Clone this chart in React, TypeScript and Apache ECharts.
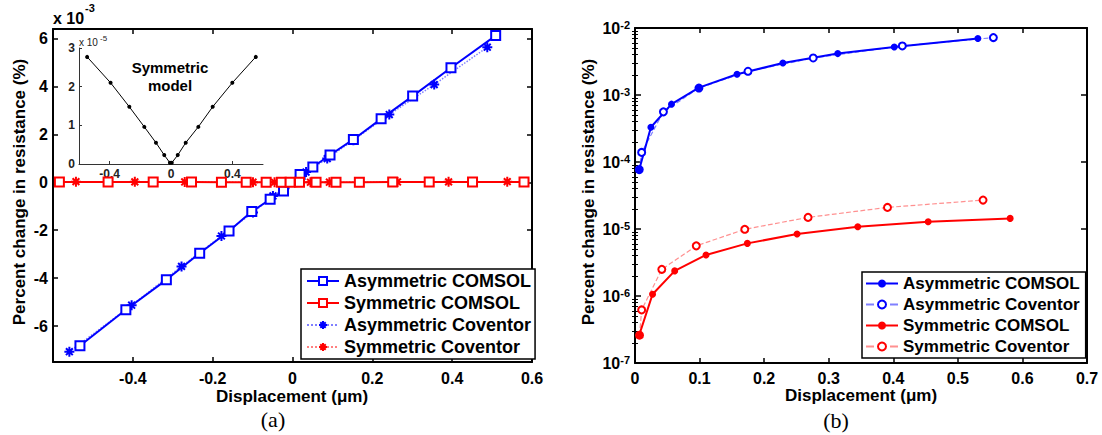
import React, { useEffect, useRef } from 'react';
import * as echarts from 'echarts';

// ---------- Data: panel (a), values in units of 1e-3 % ----------
const aAsymComsolX = [-0.5325, -0.4175, -0.316, -0.2325, -0.159, -0.102, -0.056, -0.0225, 0.019, 0.051, 0.094, 0.1525, 0.222, 0.301, 0.397, 0.509];
const aAsymComsolY = [-6.82, -5.32, -4.07, -2.96, -2.03, -1.22, -0.71, -0.36, 0.33, 0.64, 1.14, 1.79, 2.65, 3.6, 4.78, 6.125];
const aAsymCovX = [-0.559, -0.403, -0.278, -0.178, -0.099, -0.049, -0.02, 0.034, 0.087, 0.1525, 0.2425, 0.355, 0.488];
const aAsymCovY = [-7.07, -5.13, -3.51, -2.24, -1.26, -0.57, -0.25, 0.43, 0.99, 1.76, 2.83, 4.08, 5.64];
const aSymComsolX = [-0.584, -0.462, -0.349, -0.253, -0.178, -0.116, -0.066, -0.028, -0.006, 0.0175, 0.059, 0.109, 0.1675, 0.251, 0.3425, 0.451, 0.58];
const aSymComsolY = [0.0144, 0.0128, 0.0108, 0.0084, 0.0061, 0.0041, 0.0024, 0.0011, 0.0003, 0.0008, 0.0024, 0.0041, 0.0061, 0.0084, 0.0108, 0.0128, 0.0144];
const aSymCovX = [-0.5425, -0.395, -0.27, -0.178, -0.099, -0.045, -0.01, 0.01, 0.045, 0.0925, 0.1675, 0.263, 0.391, 0.538];
const aSymCovY = [0.027, 0.021, 0.0149, 0.0099, 0.0056, 0.0025, 0.0006, 0.0006, 0.0025, 0.0056, 0.0099, 0.0149, 0.021, 0.027];
const aXTicks = [-0.6, -0.4, -0.2, 0, 0.2, 0.4, 0.6];
const aYTicks = [-6, -4, -2, 0, 2, 4, 6];

// inset (units of 1e-5 %)
const insetX = [-0.547, -0.394, -0.272, -0.174, -0.098, -0.044, -0.007, 0.005, 0.044, 0.096, 0.178, 0.272, 0.4, 0.553];
const insetY = [2.77, 2.1, 1.48, 0.96, 0.55, 0.23, 0.03, 0.03, 0.23, 0.55, 0.96, 1.48, 2.1, 2.77];
const insetXTicks = [-0.4, 0, 0.4];
const insetYTicks = [0, 1, 2, 3];

// ---------- Data: panel (b), values in % ----------
const bAsymComsolX = [0.0066, 0.0246, 0.0565, 0.099, 0.158, 0.229, 0.314, 0.4015, 0.531];
const bAsymComsolY = [7.7e-5, 3.3e-4, 7.3e-4, 1.29e-3, 2.04e-3, 3.0e-3, 4.15e-3, 5.21e-3, 6.95e-3];
const bAsymCovX = [0.0066, 0.0103, 0.044, 0.099, 0.175, 0.276, 0.414, 0.555];
const bAsymCovY = [7.7e-5, 1.39e-4, 5.6e-4, 1.27e-3, 2.26e-3, 3.57e-3, 5.4e-3, 7.19e-3];
const bSymComsolX = [0.0066, 0.0272, 0.0615, 0.11, 0.174, 0.251, 0.345, 0.454, 0.581];
const bSymComsolY = [2.63e-7, 1.06e-6, 2.37e-6, 4.1e-6, 6.1e-6, 8.4e-6, 1.08e-5, 1.28e-5, 1.44e-5];
const bSymCovX = [0.007, 0.0103, 0.0415, 0.0949, 0.17, 0.268, 0.391, 0.539];
const bSymCovY = [2.6e-7, 6.2e-7, 2.5e-6, 5.6e-6, 9.9e-6, 1.49e-5, 2.1e-5, 2.7e-5];
const bYMajor = [1e-7, 1e-6, 1e-5, 1e-4, 1e-3, 1e-2];
const bYMinor = [2, 3, 4, 5, 6, 7, 8, 9].flatMap((k) => [-7, -6, -5, -4, -3].map((e) => k * Math.pow(10, e)));

const legendA = ['Asymmetric COMSOL', 'Symmetric COMSOL', 'Asymmetric Coventor', 'Symmetric Coventor'];
const legendB = ['Asymmetric COMSOL', 'Asymmetric Coventor', 'Symmetric COMSOL', 'Symmetric Coventor'];

const zip = (xs: number[], ys: number[]) => xs.map((x, i) => [x, ys[i]]);

const FONT = 'Arial, "Liberation Sans", Helvetica, sans-serif';
const BLUE = '#0000ff';
const RED = '#ff0000';
const STAR = 'path://M5,0L5,10M0,5L10,5M1.6,1.6L8.4,8.4M1.6,8.4L8.4,1.6';

const lbl = { fontFamily: FONT, fontSize: 16, fontWeight: 'bold' as const, color: '#000' };
const fmt1 = (v: number) => String(Math.round(v * 10) / 10);

function buildOption(): any {
  const axLine = { onZero: false, lineStyle: { color: '#000', width: 2 } };
  const tick = { inside: true, length: 5, lineStyle: { color: '#000', width: 1.5 } };
  const bPrefix = 'R: ';
  return {
    animation: false,
    backgroundColor: '#fff',
    grid: [
      { left: 53, top: 29, width: 479, height: 333 },
      { left: 79, top: 48, width: 184, height: 116 },
      { left: 635, top: 28, width: 452, height: 335 },
    ],
    xAxis: [
      {
        gridIndex: 0, type: 'value', min: -0.6, max: 0.6, position: 'bottom',
        axisLine: axLine, splitLine: { show: false },
        axisTick: { ...tick, customValues: aXTicks },
        axisLabel: { ...lbl, margin: 8, customValues: aXTicks.slice(1), formatter: fmt1 },
      },
      {
        gridIndex: 0, type: 'value', min: -0.6, max: 0.6, position: 'top',
        axisLine: axLine, splitLine: { show: false },
        axisTick: { ...tick, customValues: aXTicks }, axisLabel: { show: false },
      },
      {
        gridIndex: 1, type: 'value', min: -0.6, max: 0.6, position: 'bottom',
        axisLine: { onZero: false, lineStyle: { color: '#333', width: 1 } }, splitLine: { show: false },
        axisTick: { inside: true, length: 3, lineStyle: { color: '#333' }, customValues: insetXTicks },
        axisLabel: { fontFamily: FONT, fontSize: 12, fontWeight: 'bold', color: '#222', margin: 4, customValues: insetXTicks, formatter: fmt1 },
      },
      {
        gridIndex: 2, type: 'value', min: 0, max: 0.7, interval: 0.1, position: 'bottom',
        axisLine: axLine, splitLine: { show: false }, axisTick: tick,
        axisLabel: { ...lbl, margin: 7, formatter: fmt1 },
      },
      {
        gridIndex: 2, type: 'value', min: 0, max: 0.7, interval: 0.1, position: 'top',
        axisLine: axLine, splitLine: { show: false }, axisTick: tick, axisLabel: { show: false },
      },
    ],
    yAxis: [
      {
        gridIndex: 0, type: 'value', min: -7.5, max: 6.4, position: 'left',
        axisLine: axLine, splitLine: { show: false },
        axisTick: { ...tick, customValues: aYTicks },
        axisLabel: { ...lbl, margin: 5, customValues: aYTicks, formatter: (v: number) => String(v) },
      },
      {
        gridIndex: 0, type: 'value', min: -7.5, max: 6.4, position: 'right',
        axisLine: axLine, splitLine: { show: false },
        axisTick: { ...tick, customValues: aYTicks }, axisLabel: { show: false },
      },
      {
        gridIndex: 1, type: 'value', min: 0, max: 3, interval: 1, position: 'left',
        axisLine: { onZero: false, lineStyle: { color: '#333', width: 1 } }, splitLine: { show: false },
        axisTick: { inside: true, length: 3, lineStyle: { color: '#333' } },
        axisLabel: { fontFamily: FONT, fontSize: 12, fontWeight: 'bold', color: '#222', margin: 4, customValues: insetYTicks },
      },
      {
        gridIndex: 2, type: 'log', logBase: 10, min: 1e-7, max: 1e-2, position: 'left',
        axisLine: axLine, splitLine: { show: false },
        axisTick: { ...tick, length: 6, customValues: bYMajor },
        axisLabel: {
          margin: 5, customValues: bYMajor,
          formatter: (v: number) => '{a|10}{b|' + Math.round(Math.log10(v)) + '}',
          rich: {
            a: { fontFamily: FONT, fontSize: 16, fontWeight: 'bold', color: '#000', lineHeight: 18 },
            b: { fontFamily: FONT, fontSize: 11, fontWeight: 'bold', color: '#000', verticalAlign: 'top', lineHeight: 18 },
          },
        },
      },
      {
        gridIndex: 2, type: 'log', logBase: 10, min: 1e-7, max: 1e-2, position: 'left',
        axisLine: { show: false }, splitLine: { show: false },
        axisTick: { inside: true, length: 3, lineStyle: { color: '#000', width: 1 }, customValues: bYMinor },
        axisLabel: { show: false },
      },
      {
        gridIndex: 2, type: 'log', logBase: 10, min: 1e-7, max: 1e-2, position: 'right',
        axisLine: axLine, splitLine: { show: false },
        axisTick: { ...tick, length: 6, customValues: bYMajor }, axisLabel: { show: false },
      },
      {
        gridIndex: 2, type: 'log', logBase: 10, min: 1e-7, max: 1e-2, position: 'right',
        axisLine: { show: false }, splitLine: { show: false },
        axisTick: { inside: true, length: 3, lineStyle: { color: '#000', width: 1 }, customValues: bYMinor },
        axisLabel: { show: false },
      },
    ],
    legend: [
      {
        left: 301, top: 269, orient: 'vertical', data: legendA, selectedMode: false,
        itemWidth: 32, itemHeight: 10, itemGap: 4, padding: [3, 4, 3, 5],
        borderColor: '#000', borderWidth: 1.5, backgroundColor: '#fff',
        textStyle: { fontFamily: FONT, fontSize: 18, fontWeight: 'bold', color: '#000', lineHeight: 17 },
      },
      {
        left: 862, top: 272, orient: 'vertical', data: legendB.map((n) => bPrefix + n), selectedMode: false,
        formatter: (n: string) => n.replace(bPrefix, ''),
        itemWidth: 32, itemHeight: 10, itemGap: 4, padding: [3, 6, 3, 3],
        borderColor: '#000', borderWidth: 1.5, backgroundColor: '#fff',
        textStyle: { fontFamily: FONT, fontSize: 17, fontWeight: 'bold', color: '#000', lineHeight: 16.5 },
      },
    ],
    series: [
      // panel (a)
      {
        name: 'Asymmetric Coventor', type: 'line', xAxisIndex: 0, yAxisIndex: 0, data: zip(aAsymCovX, aAsymCovY),
        symbol: STAR, symbolSize: 10, itemStyle: { color: BLUE, borderColor: BLUE, borderWidth: 2 },
        lineStyle: { color: '#8080ff', width: 1.5, type: 'dotted' },
      },
      {
        name: 'Symmetric Coventor', type: 'line', xAxisIndex: 0, yAxisIndex: 0, data: zip(aSymCovX, aSymCovY),
        symbol: STAR, symbolSize: 10, itemStyle: { color: RED, borderColor: RED, borderWidth: 2 },
        lineStyle: { color: '#ff8080', width: 1.5, type: 'dotted' },
      },
      {
        name: 'Asymmetric COMSOL', type: 'line', xAxisIndex: 0, yAxisIndex: 0, data: zip(aAsymComsolX, aAsymComsolY),
        symbol: 'emptyRect', symbolSize: 9, itemStyle: { color: BLUE, borderWidth: 1.5 },
        lineStyle: { color: BLUE, width: 2 },
      },
      {
        name: 'Symmetric COMSOL', type: 'line', xAxisIndex: 0, yAxisIndex: 0, data: zip(aSymComsolX, aSymComsolY),
        symbol: 'emptyRect', symbolSize: 9, itemStyle: { color: RED, borderWidth: 1.5 },
        lineStyle: { color: RED, width: 2 },
      },
      // inset
      {
        name: 'inset', type: 'line', xAxisIndex: 2, yAxisIndex: 2, data: zip(insetX, insetY),
        symbol: 'circle', symbolSize: 4, itemStyle: { color: '#000' }, lineStyle: { color: '#000', width: 1 },
      },
      // panel (b)
      {
        name: bPrefix + 'Asymmetric Coventor', type: 'line', xAxisIndex: 3, yAxisIndex: 3, data: zip(bAsymCovX, bAsymCovY),
        symbol: 'emptyCircle', symbolSize: 7, itemStyle: { color: BLUE, borderWidth: 2 },
        lineStyle: { color: '#8080ff', width: 1.2, type: 'dashed' },
      },
      {
        name: bPrefix + 'Symmetric Coventor', type: 'line', xAxisIndex: 3, yAxisIndex: 3, data: zip(bSymCovX, bSymCovY),
        symbol: 'emptyCircle', symbolSize: 7, itemStyle: { color: RED, borderWidth: 2 },
        lineStyle: { color: '#ff9090', width: 1.2, type: 'dashed' },
      },
      {
        name: bPrefix + 'Asymmetric COMSOL', type: 'line', xAxisIndex: 3, yAxisIndex: 3, data: zip(bAsymComsolX, bAsymComsolY),
        symbol: 'circle', symbolSize: 7, itemStyle: { color: BLUE },
        lineStyle: { color: BLUE, width: 2 },
      },
      {
        name: bPrefix + 'Symmetric COMSOL', type: 'line', xAxisIndex: 3, yAxisIndex: 3, data: zip(bSymComsolX, bSymComsolY),
        symbol: 'circle', symbolSize: 7, itemStyle: { color: RED },
        lineStyle: { color: RED, width: 2 },
      },
    ],
    graphic: [
      { type: 'text', x: 53, y: 18, style: { text: 'x 10', fontFamily: FONT, fontSize: 16, fontWeight: 'bold', fill: '#000', verticalAlign: 'middle' } },
      { type: 'text', x: 85, y: 8, style: { text: '-3', fontFamily: FONT, fontSize: 11, fontWeight: 'bold', fill: '#000', verticalAlign: 'middle' } },
      { type: 'text', x: 79, y: 42, style: { text: 'x 10', fontFamily: FONT, fontSize: 10, fill: '#222', verticalAlign: 'middle' } },
      { type: 'text', x: 100, y: 38, style: { text: '-5', fontFamily: FONT, fontSize: 8, fill: '#222', verticalAlign: 'middle' } },
      { type: 'text', x: 170, y: 67, style: { text: 'Symmetric', fontFamily: FONT, fontSize: 15, fontWeight: 'bold', fill: '#000', align: 'center', verticalAlign: 'middle' } },
      { type: 'text', x: 170, y: 85, style: { text: 'model', fontFamily: FONT, fontSize: 15, fontWeight: 'bold', fill: '#000', align: 'center', verticalAlign: 'middle' } },
      { type: 'text', x: 19, y: 192, rotation: Math.PI / 2, style: { text: 'Percent change in resistance (%)', fontFamily: FONT, fontSize: 17, fontWeight: 'bold', fill: '#000', align: 'center', verticalAlign: 'middle' } },
      { type: 'text', x: 588, y: 192, rotation: Math.PI / 2, style: { text: 'Percent change in resistance (%)', fontFamily: FONT, fontSize: 17, fontWeight: 'bold', fill: '#000', align: 'center', verticalAlign: 'middle' } },
      { type: 'text', x: 292, y: 396, style: { text: 'Displacement (μm)', fontFamily: FONT, fontSize: 17, fontWeight: 'bold', fill: '#000', align: 'center', verticalAlign: 'middle' } },
      { type: 'text', x: 861, y: 395, style: { text: 'Displacement (μm)', fontFamily: FONT, fontSize: 17, fontWeight: 'bold', fill: '#000', align: 'center', verticalAlign: 'middle' } },
      { type: 'text', x: 273, y: 419, style: { text: '(a)', fontFamily: '"Liberation Serif", "Times New Roman", serif', fontSize: 22, fill: '#000', align: 'center', verticalAlign: 'middle' } },
      { type: 'text', x: 836, y: 420, style: { text: '(b)', fontFamily: '"Liberation Serif", "Times New Roman", serif', fontSize: 22, fill: '#000', align: 'center', verticalAlign: 'middle' } },
    ],
  };
}

export default function App() {
  const ref = useRef<HTMLDivElement>(null);
  useEffect(() => {
    if (!ref.current) return;
    const chart = echarts.init(ref.current, null, { renderer: 'svg' });
    chart.setOption(buildOption());
    return () => chart.dispose();
  }, []);
  return (
    <div
      ref={ref}
      style={{ position: 'absolute', left: 0, top: 0, width: 1102, height: 435, background: '#fff' }}
    />
  );
}
